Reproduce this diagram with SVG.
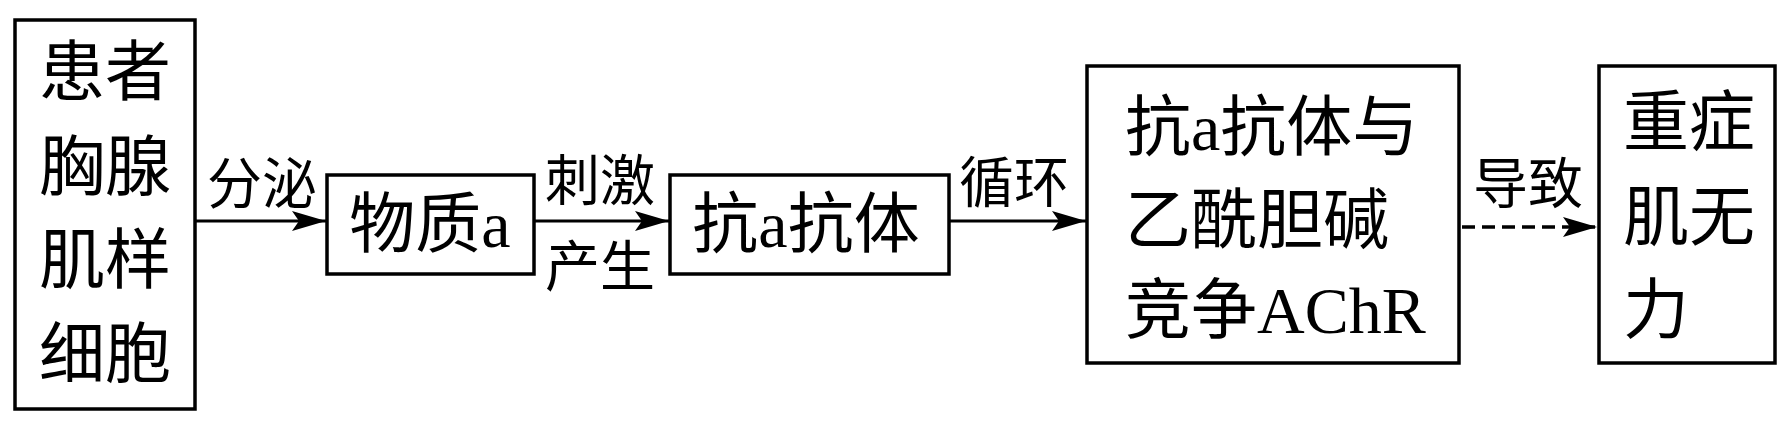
<svg xmlns="http://www.w3.org/2000/svg" width="1791" height="427" viewBox="0 0 1791 427">
<style>
.box{fill:#fff;stroke:#000;stroke-width:3.5}
.t{font-family:"Liberation Serif","Noto Sans CJK SC",serif;font-size:66px;fill:#000}
.lbl{font-family:"Liberation Serif","Noto Sans CJK SC",serif;font-size:55px;fill:#000;text-anchor:middle}
.c{text-anchor:middle}
.ln{stroke:#000;stroke-width:3;fill:none}
.dash{stroke-dasharray:13 7;stroke-width:3.5}
</style>
<defs>
<marker id="ah" markerUnits="userSpaceOnUse" markerWidth="36" markerHeight="22" refX="34" refY="11" orient="auto">
<path d="M0,1 L34,11 L0,21 L7,11 z" fill="#000"/>
</marker>
</defs>
<rect width="1791" height="427" fill="#fff"/>
<g id="connectors">
<line class="ln" x1="195" y1="221" x2="326" y2="221" marker-end="url(#ah)"/>
<line class="ln" x1="534" y1="221" x2="669" y2="221" marker-end="url(#ah)"/>
<line class="ln" x1="949" y1="221" x2="1086" y2="221" marker-end="url(#ah)"/>
<line class="ln dash" x1="1462" y1="227" x2="1597" y2="227" marker-end="url(#ah)"/>
<text class="lbl" x="262" y="203">分泌</text>
<text class="lbl" x="600" y="200">刺激</text>
<text class="lbl" x="600" y="286">产生</text>
<text class="lbl" x="1014" y="202">循环</text>
<text class="lbl" x="1528" y="203">导致</text>
</g>
<g id="node1">
<rect class="box" x="15" y="20" width="180" height="389"/>
<text class="t c" x="105" y="95">患者</text>
<text class="t c" x="105" y="190">胸腺</text>
<text class="t c" x="105" y="283">肌样</text>
<text class="t c" x="105" y="377">细胞</text>
</g>
<g id="node2">
<rect class="box" x="327" y="175" width="207" height="99"/>
<text class="t c" x="430" y="247">物质a</text>
</g>
<g id="node3">
<rect class="box" x="670" y="175" width="279" height="99"/>
<text class="t c" x="806" y="247">抗a抗体</text>
</g>
<g id="node4">
<rect class="box" x="1087" y="66" width="372" height="297"/>
<text class="t" x="1125" y="150">抗a抗体与</text>
<text class="t" x="1125" y="243">乙酰胆碱</text>
<text class="t" x="1125" y="333">竞争AChR</text>
</g>
<g id="node5">
<rect class="box" x="1599" y="66" width="176" height="297"/>
<text class="t" x="1623" y="145">重症</text>
<text class="t" x="1623" y="240">肌无</text>
<text class="t" x="1623" y="333">力</text>
</g>
</svg>
